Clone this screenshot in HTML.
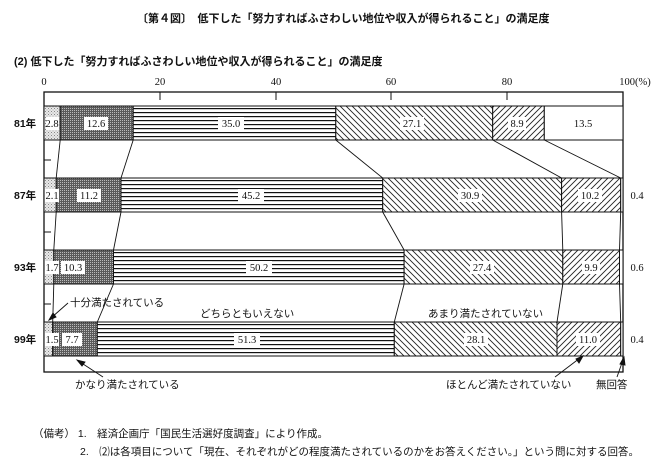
<!DOCTYPE html>
<html><head><meta charset="utf-8"><style>
html,body{margin:0;padding:0;background:#fff;}
svg{display:block;font-family:"Liberation Serif","Noto Serif CJK SC","Noto Sans CJK JP",serif;}
.j{font-family:"Liberation Sans","Noto Sans CJK JP",sans-serif;}
</style></head><body>
<svg width="665" height="469" viewBox="0 0 665 469" xmlns="http://www.w3.org/2000/svg">
<defs>
<pattern id="p1" width="3" height="3" patternUnits="userSpaceOnUse"><rect width="3" height="3" fill="#e8e8e8"/><rect x="0" y="0" width="1" height="1" fill="#888"/><rect x="1.5" y="1.5" width="1" height="1" fill="#aaa"/></pattern>
<pattern id="p2" width="2" height="2" patternUnits="userSpaceOnUse"><rect width="2" height="2" fill="#5a5a5a"/><rect x="0" y="0" width="1" height="1" fill="#bbb"/></pattern>
<pattern id="p3" width="4" height="4" patternUnits="userSpaceOnUse"><rect width="4" height="4" fill="#fff"/><rect y="0" width="4" height="1.2" fill="#111"/></pattern>
<pattern id="p4" width="6" height="6" patternUnits="userSpaceOnUse"><rect width="6" height="6" fill="#fff"/><path d="M-1,-1 L7,7 M-1,5 L1,7 M5,-1 L7,1" stroke="#222" stroke-width="0.9"/></pattern>
<pattern id="p5" width="6" height="6" patternUnits="userSpaceOnUse"><rect width="6" height="6" fill="#fff"/><path d="M-1,7 L7,-1 M-1,1 L1,-1 M5,7 L7,5" stroke="#222" stroke-width="0.9"/></pattern>
</defs>
<g class="j" font-size="11" fill="#111">
<text x="137" y="22" font-size="11" font-weight="bold">〔第４図〕　低下した「努力すればふさわしい地位や収入が得られること」の満足度</text>
<text x="14" y="65" font-size="11" font-weight="bold">(2) 低下した「努力すればふさわしい地位や収入が得られること」の満足度</text>
</g>
<g font-size="10.5" fill="#111" text-anchor="middle">
<text x="44" y="85">0</text><text x="160" y="85">20</text><text x="276" y="85">40</text><text x="391" y="85">60</text><text x="507" y="85">80</text><text x="635" y="85">100(%)</text>
</g>
<rect x="44" y="92" width="579" height="280" fill="none" stroke="#111" stroke-width="1.3"/>
<g stroke="#111" stroke-width="1"><line x1="160" y1="92" x2="160" y2="100"/><line x1="276" y1="92" x2="276" y2="100"/><line x1="391" y1="92" x2="391" y2="100"/><line x1="507" y1="92" x2="507" y2="100"/>
<line x1="44" y1="160" x2="51" y2="160"/><line x1="44" y1="232" x2="51" y2="232"/><line x1="44" y1="304" x2="51" y2="304"/></g>
<g stroke="#111" stroke-width="1">
<rect x="44" y="106" width="16.2" height="34" fill="url(#p1)"/><rect x="60.2" y="106" width="73" height="34" fill="url(#p2)"/><rect x="133.2" y="106" width="202.6" height="34" fill="url(#p3)"/><rect x="335.8" y="106" width="156.9" height="34" fill="url(#p4)"/><rect x="492.7" y="106" width="51.6" height="34" fill="url(#p5)"/><rect x="544.3" y="106" width="78.7" height="34" fill="#fff"/>
<rect x="44" y="178" width="12.2" height="34" fill="url(#p1)"/><rect x="56.2" y="178" width="64.8" height="34" fill="url(#p2)"/><rect x="121" y="178" width="261.7" height="34" fill="url(#p3)"/><rect x="382.7" y="178" width="178.9" height="34" fill="url(#p4)"/><rect x="561.6" y="178" width="59.1" height="34" fill="url(#p5)"/><rect x="620.7" y="178" width="2.3" height="34" fill="#fff"/>
<rect x="44" y="250" width="9.8" height="34" fill="url(#p1)"/><rect x="53.8" y="250" width="59.7" height="34" fill="url(#p2)"/><rect x="113.5" y="250" width="290.6" height="34" fill="url(#p3)"/><rect x="404.1" y="250" width="158.7" height="34" fill="url(#p4)"/><rect x="562.8" y="250" width="56.7" height="34" fill="url(#p5)"/><rect x="619.5" y="250" width="3.5" height="34" fill="#fff"/>
<rect x="44" y="322" width="8.7" height="34" fill="url(#p1)"/><rect x="52.7" y="322" width="44.6" height="34" fill="url(#p2)"/><rect x="97.3" y="322" width="297" height="34" fill="url(#p3)"/><rect x="394.3" y="322" width="162.7" height="34" fill="url(#p4)"/><rect x="557" y="322" width="63.7" height="34" fill="url(#p5)"/><rect x="620.7" y="322" width="2.3" height="34" fill="#fff"/>
</g>
<g stroke="#111" stroke-width="0.9">
<line x1="60.2" y1="140" x2="56.2" y2="178"/><line x1="133.2" y1="140" x2="121" y2="178"/><line x1="335.8" y1="140" x2="382.7" y2="178"/><line x1="492.7" y1="140" x2="561.6" y2="178"/><line x1="544.3" y1="140" x2="620.7" y2="178"/>
<line x1="56.2" y1="212" x2="53.8" y2="250"/><line x1="121" y1="212" x2="113.5" y2="250"/><line x1="382.7" y1="212" x2="404.1" y2="250"/><line x1="561.6" y1="212" x2="562.8" y2="250"/><line x1="620.7" y1="212" x2="619.5" y2="250"/>
<line x1="53.8" y1="284" x2="52.7" y2="322"/><line x1="113.5" y1="284" x2="97.3" y2="322"/><line x1="404.1" y1="284" x2="394.3" y2="322"/><line x1="562.8" y1="284" x2="557" y2="322"/><line x1="619.5" y1="284" x2="620.7" y2="322"/>
</g>
<g font-size="10.5" fill="#111" text-anchor="middle">
<g fill="#fff"><rect x="46" y="117" width="13" height="13"/><rect x="84" y="117" width="24" height="13"/><rect x="218" y="117" width="26" height="13"/><rect x="400" y="117" width="24" height="13"/><rect x="508" y="117" width="18" height="13"/>
<rect x="45" y="189" width="14" height="13"/><rect x="77" y="189" width="24" height="13"/><rect x="238" y="189" width="26" height="13"/><rect x="458" y="189" width="24" height="13"/><rect x="578" y="189" width="24" height="13"/>
<rect x="45" y="261" width="14" height="13"/><rect x="61" y="261" width="24" height="13"/><rect x="246" y="261" width="26" height="13"/><rect x="470" y="261" width="24" height="13"/><rect x="582" y="261" width="18" height="13"/>
<rect x="45" y="333" width="14" height="13"/><rect x="62" y="333" width="20" height="13"/><rect x="234" y="333" width="26" height="13"/><rect x="464" y="333" width="24" height="13"/><rect x="576" y="333" width="24" height="13"/></g>
<text x="52" y="127">2.8</text><text x="96" y="127">12.6</text><text x="231" y="127">35.0</text><text x="412" y="127">27.1</text><text x="517" y="127">8.9</text><text x="583" y="127">13.5</text>
<text x="52" y="199">2.1</text><text x="89" y="199">11.2</text><text x="251" y="199">45.2</text><text x="470" y="199">30.9</text><text x="590" y="199">10.2</text><text x="637" y="199">0.4</text>
<text x="52" y="271">1.7</text><text x="73" y="271">10.3</text><text x="259" y="271">50.2</text><text x="482" y="271">27.4</text><text x="591" y="271">9.9</text><text x="637" y="271">0.6</text>
<text x="52" y="343">1.5</text><text x="72" y="343">7.7</text><text x="247" y="343">51.3</text><text x="476" y="343">28.1</text><text x="588" y="343">11.0</text><text x="637" y="343">0.4</text>
</g>
<g class="j" font-size="10.5" fill="#111">
<g font-weight="bold"><text x="14" y="127">81年</text><text x="14" y="199">87年</text><text x="14" y="271">93年</text><text x="14" y="343">99年</text></g>
<text x="70" y="306">十分満たされている</text>
<text x="200" y="317">どちらともいえない</text>
<text x="428" y="317">あまり満たされていない</text>
<text x="75" y="388">かなり満たされている</text>
<text x="446" y="388">ほとんど満たされていない</text>
<text x="596" y="388">無回答</text>
<text x="33" y="437">（備考）  1.　経済企画庁「国民生活選好度調査」により作成。</text>
<text x="80" y="455">2.　⑵は各項目について「現在、それぞれがどの程度満たされているのかをお答えください。」という問に対する回答。</text>
</g>
<g stroke="#111" stroke-width="0.9" fill="#111">
<line x1="68" y1="303" x2="51" y2="318"/><path d="M49,320 L53,313 L56,317 Z"/>
<line x1="103" y1="377" x2="80" y2="362"/><path d="M77,360 L85,362 L82,366 Z"/>
<line x1="555" y1="377" x2="580" y2="358"/><path d="M583,356 L579,363 L576,359 Z"/>
<line x1="617" y1="377" x2="623" y2="360"/><path d="M624,357 L625,365 L620,364 Z"/>
</g>
</svg>
</body></html>
